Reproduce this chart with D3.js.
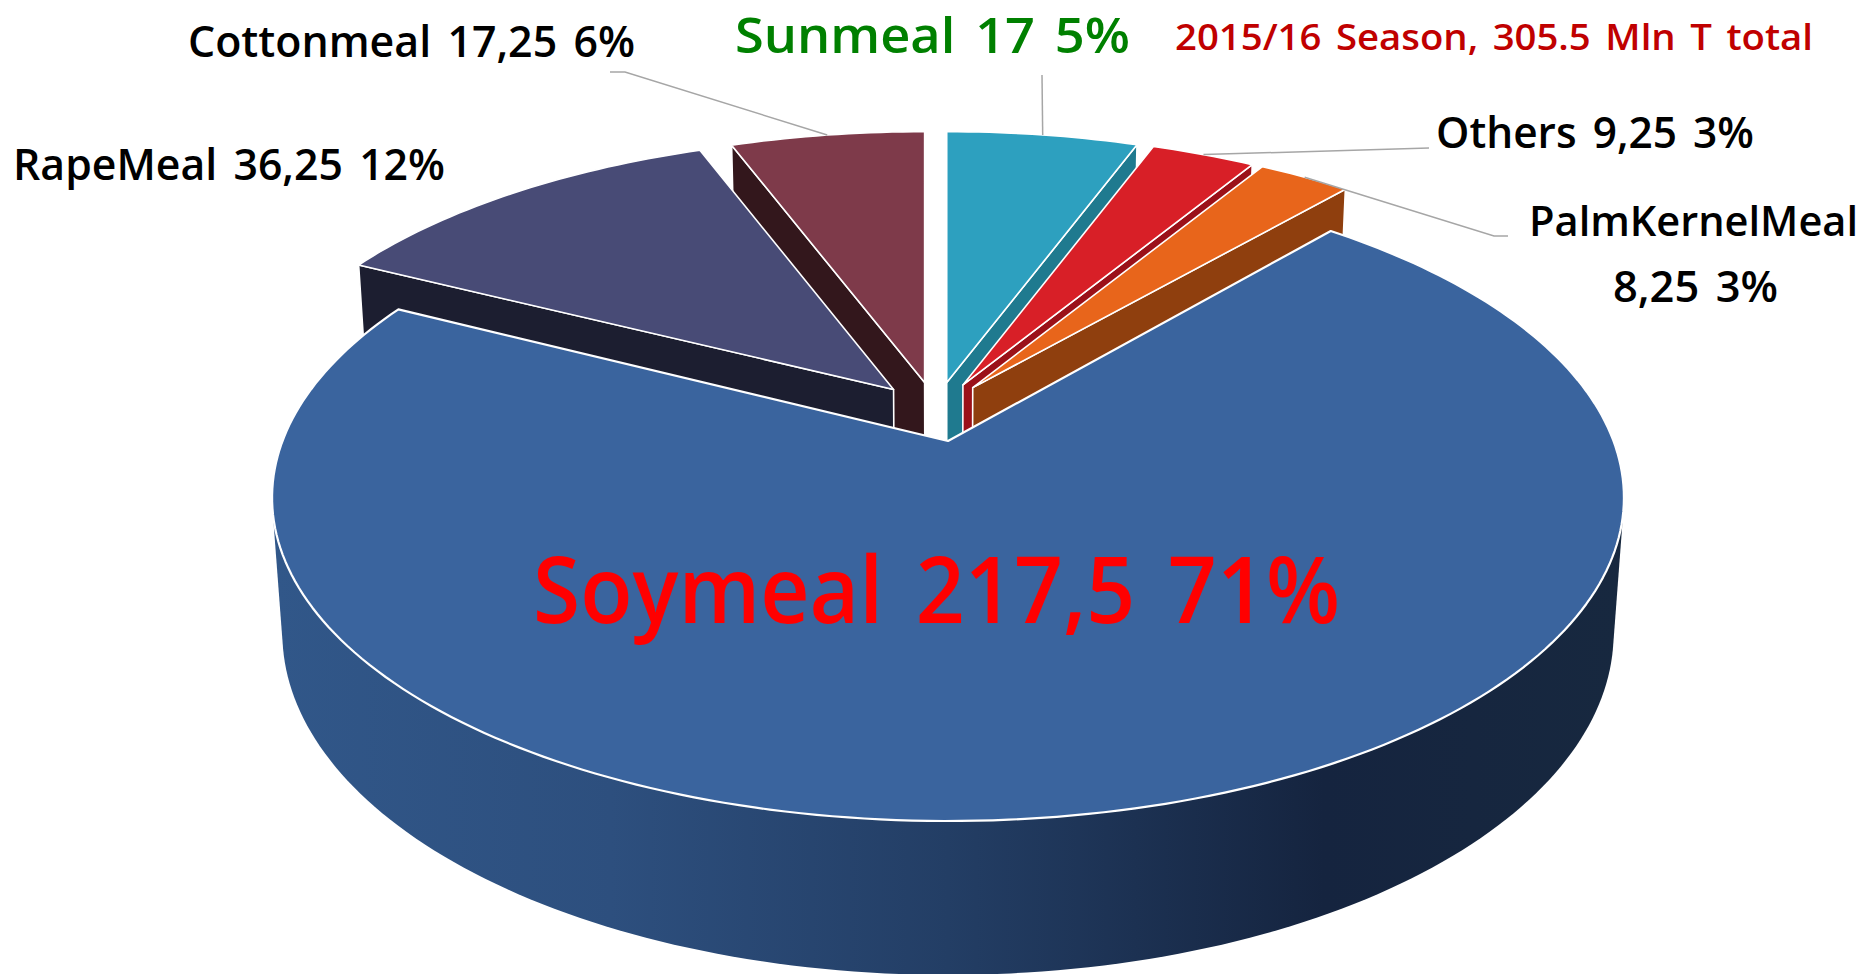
<!DOCTYPE html>
<meta charset="utf-8">
<style>
body { margin: 0; background: #fff; }
text { font-family: "Open Sans", "DejaVu Sans", sans-serif; font-weight: 600; word-spacing: 0.12em; }
.leader { fill: none; stroke: #a6a6a6; stroke-width: 1.5px; }
.top, .face { stroke: #fff; stroke-width: 1.6px; stroke-linejoin: round; }
</style>
<body>
<script src="https://d3js.org/d3.v7.min.js"></script>
<script>

// the data, clockwise from 12 o'clock
const categories = ["Sunmeal", "Others", "PalmKernelMeal", "Soymeal", "RapeMeal", "Cottonmeal"];
const values = [17, 9.25, 8.25, 217.5, 36.25, 17.25];
const labelValues = ["17", "9,25", "8,25", "217,5", "36,25", "17,25"];
const labelShares = ["5%", "3%", "3%", "71%", "12%", "6%"];
const title = "2015/16 Season, 305.5 Mln T total";

const topColors = ["#2da0bf", "#d81f27", "#e8651b", "#3a649e", "#484b76", "#7e3a4a"];
const faceColors = ["#1f7a8f", "#9b1119", "#8f3f0e", "#16263f", "#1c1e30", "#33171c"];

const width = 1866, height = 974;

// perspective of the 3D pie. drop is 0 for the top surface and 1 for the bottom one
const view = {cx: 948, cy: 441, a: 665.5, b: 313.5, k: 0.175, sink: 0.015, depth: 135};
const explode = 0.098;

const svg = d3.select("body").append("svg")
    .attr("width", width)
    .attr("height", height);

// side of the big slice is shaded left to right
const grad = svg.append("defs").append("linearGradient")
    .attr("id", "soySide")
    .attr("gradientUnits", "userSpaceOnUse")
    .attr("x1", 275).attr("x2", 1620).attr("y1", 0).attr("y2", 0);
[[0, "#315789"], [0.25, "#2d4f7e"], [0.5, "#233e65"], [0.78, "#15243f"], [1, "#17283f"]]
  .forEach(s => grad.append("stop").attr("offset", s[0]).attr("stop-color", s[1]));

const pie = d3.pie().sort(null).value(d => d.value);
const slices = pie(categories.map((c, i) => ({name: c, value: values[i], i: i})));

const mid = d => (d.startAngle + d.endAngle) / 2;
const soyMid = mid(slices[categories.indexOf("Soymeal")]);

// every slice moves out along its bisector, the picture is anchored on the soymeal apex
slices.forEach(d => {
  d.du = explode * (Math.sin(mid(d)) - Math.sin(soyMid));
  d.dv = explode * (Math.cos(soyMid) - Math.cos(mid(d)));
});

// radius 0 gives the apex of the slice, radius 1 a point on its rim
function pointAt(d, angle, drop, radius = 1) {
  const base = 1 + view.sink * drop;
  const v = d.dv - radius * Math.cos(angle);
  const w = base - view.k * v;
  const wApex = base - view.k * d.dv;
  return [
    view.cx + view.a * (d.du / wApex + radius * Math.sin(angle) / w),
    view.cy + (view.b * v + view.depth * drop) / w
  ];
}
const apex = (d, drop) => pointAt(d, 0, drop, 0);
const line = d3.line();

function arcPoints(d, drop) {
  const n = Math.ceil((d.endAngle - d.startAngle) / 0.02);
  return d3.range(n + 1).map(j => pointAt(d, d.startAngle + (d.endAngle - d.startAngle) * j / n, drop));
}

function drawTop(d) {
  return svg.append("path")
      .attr("class", "top")
      .attr("fill", topColors[d.data.i])
      .attr("d", line([apex(d, 0), ...arcPoints(d, 0)]) + "Z");
}

// radial wall of a slice, the bottom of it ends up under the soymeal surface
function drawFace(d, angle) {
  svg.append("path")
      .attr("class", "face")
      .attr("fill", faceColors[d.data.i])
      .attr("d", line([apex(d, 0), pointAt(d, angle, 0), pointAt(d, angle, 1), apex(d, 1)]) + "Z");
}

const byName = name => slices[categories.indexOf(name)];

// back slices first, soymeal goes over all of them
const cotton = byName("Cottonmeal"), rape = byName("RapeMeal");
drawFace(cotton, cotton.startAngle);
drawTop(cotton);
drawFace(rape, rape.startAngle);
drawTop(rape);

["Sunmeal", "Others", "PalmKernelMeal"].forEach(name => {
  const d = byName(name);
  drawFace(d, d.endAngle);
  drawTop(d);
});

// outer wall: hull of the front half of both rims, the top surface hides the rest
const soy = byName("Soymeal");
const soyFront = Object.assign({}, soy, {startAngle: Math.PI / 2, endAngle: Math.PI * 1.5});
svg.append("path")
    .attr("fill", "url(#soySide)")
    .attr("d", line(d3.polygonHull([...arcPoints(soyFront, 0), ...arcPoints(soyFront, 1)])) + "Z");
drawTop(soy).style("stroke-width", "2.2px");

// leader lines start on the rim of their slice, elbows are page positions
const leaders = {
  Cottonmeal: [[625, 72], [610, 72]],
  Sunmeal: [[1042, 75]],
  Others: [[1429, 148]],
  PalmKernelMeal: [[1494, 236], [1508, 236]]
};
Object.keys(leaders).forEach(name => {
  const d = byName(name);
  svg.append("path")
      .attr("class", "leader")
      .attr("d", line([pointAt(d, mid(d), 0), ...leaders[name]]));
});

const labelText = name => {
  const i = categories.indexOf(name);
  return name + " " + labelValues[i] + " " + labelShares[i];
};

function addText(str, x, y, size, len, fill) {
  svg.append("text")
      .attr("x", x).attr("y", y)
      .attr("font-size", size)
      .attr("fill", fill)
      .attr("textLength", len)
      .attr("lengthAdjust", "spacingAndGlyphs")
      .text(str);
}

addText(labelText("Cottonmeal"), 188, 57, 44, 447, "#000");
addText(labelText("Sunmeal"), 735, 53, 49.5, 395, "#008000");
addText(title, 1175, 50, 36, 638, "#c00000");
addText(labelText("Others"), 1436, 148, 44, 318, "#000");
addText(labelText("RapeMeal"), 13, 180, 44, 432, "#000");
addText(labelText("Soymeal"), 533, 623, 92, 807, "#ff0000");

// this label is wrapped on two lines
const palm = categories.indexOf("PalmKernelMeal");
addText(categories[palm], 1529, 236, 42, 329, "#000");
addText(labelValues[palm] + " " + labelShares[palm], 1613, 302, 44, 165, "#000");

</script>
</body>
